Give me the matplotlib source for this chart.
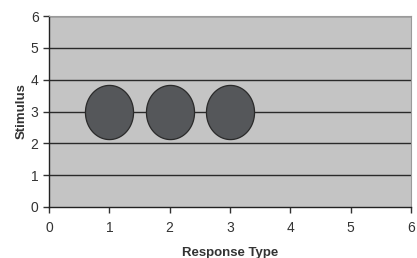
import matplotlib
matplotlib.use("Agg")
import matplotlib.pyplot as plt
import numpy as np
from matplotlib.path import Path

plt.rcParams['font.family'] = ['Liberation Sans', 'DejaVu Sans']

response_type = [1, 2, 3]
stimulus = [3, 3, 3]
x_ticks = [0, 1, 2, 3, 4, 5, 6]
y_ticks = [0, 1, 2, 3, 4, 5, 6]

fig = plt.figure(figsize=(4.17, 2.58), dpi=100)
ax = fig.add_axes([0.1175, 0.1977, 0.868, 0.740])
ax.set_facecolor('#c4c4c4')

# elliptical marker (slightly taller than wide)
t = np.linspace(0, 2 * np.pi, 100)
verts = np.column_stack([0.444 * np.cos(t), 0.5 * np.sin(t)])
ell = Path(verts, closed=True)

for y in y_ticks[1:]:
    ax.axhline(y, color='#2a2a2a', lw=1.0, zorder=1)

ax.scatter(response_type, stimulus, marker=ell, s=39 ** 2, facecolor='#55575a',
           edgecolor='#2a2a2a', linewidths=0.9, zorder=3)

ax.set_xlim(0, 6)
ax.set_ylim(0, 6)
ax.set_xticks(x_ticks)
ax.set_yticks(y_ticks)
ax.tick_params(axis='both', labelsize=10, colors='#333333', length=4, width=1, direction='out')
ax.tick_params(axis='x', pad=6)
for s in ['top', 'right']:
    ax.spines[s].set_color('#9a9a9a')
    ax.spines[s].set_linewidth(0.8)
for s in ['left', 'bottom']:
    ax.spines[s].set_color('#222222')
    ax.spines[s].set_linewidth(1.0)

ax.set_xlabel('Response Type', fontsize=9.5, fontweight='bold', color='#333333', labelpad=9)
ax.set_ylabel('Stimulus', fontsize=9.5, fontweight='bold', color='#333333', labelpad=2)

fig.savefig('out.png', dpi=100)
